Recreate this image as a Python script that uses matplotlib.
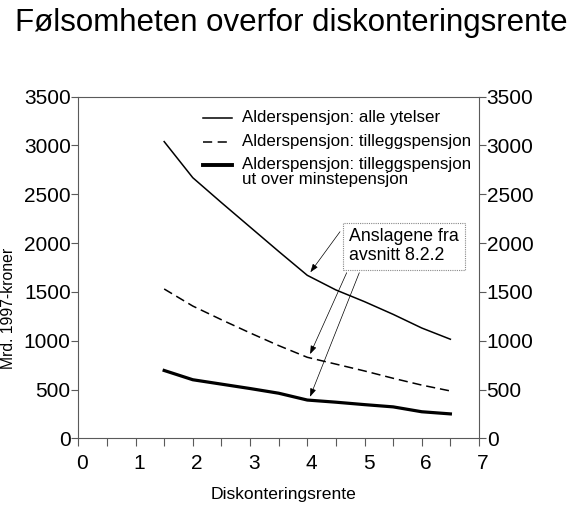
import matplotlib
matplotlib.use("Agg")
import matplotlib.pyplot as plt
import matplotlib.transforms as mtransforms
from matplotlib.lines import Line2D

plt.rcParams['font.family'] = ['Liberation Sans', 'DejaVu Sans']

# Data
rente = [1.5, 2.0, 2.5, 3.0, 3.5, 4.0, 4.5, 5.0, 5.5, 6.0, 6.5]
alle_ytelser = [3040, 2670, 2415, 2165, 1915, 1670, 1520, 1400, 1270, 1130, 1015]
tilleggspensjon = [1530, 1355, 1215, 1080, 950, 830, 760, 690, 615, 545, 485]
over_minste = [695, 600, 555, 510, 462, 392, 370, 345, 322, 272, 250]

labels = ["Alderspensjon: alle ytelser",
          "Alderspensjon: tilleggspensjon",
          "Alderspensjon: tilleggspensjon\nut over minstepensjon"]
title = "Følsomheten overfor diskonteringsrente"
xlabel = "Diskonteringsrente"
ylabel = "Mrd. 1997-kroner"
annot = "Anslagene fra\navsnitt 8.2.2"
xticks_major = [0, 1, 2, 3, 4, 5, 6, 7]
yticks = [0, 500, 1000, 1500, 2000, 2500, 3000, 3500]

W, H = 576, 505
fig = plt.figure(figsize=(W / 100, H / 100), dpi=100)
x0, x1 = 78.3, 479.0
yb, yt = 438.3, 96.7
ax = fig.add_axes([x0 / W, (H - yb) / H, (x1 - x0) / W, (yb - yt) / H])

spine_col = '#5a5a5a'
for s in ax.spines.values():
    s.set_color(spine_col)
    s.set_linewidth(0.8)

ax.set_xlim(0, 7)
ax.set_ylim(0, 3500)

l1, = ax.plot(rente, alle_ytelser, color='black', lw=1.1)
l2, = ax.plot(rente, tilleggspensjon, color='black', lw=1.1)
l2.set_dashes((6.0, 3.2))
l3, = ax.plot(rente, over_minste, color='black', lw=2.3)

# x ticks: every 0.5, labels only at integers
halfs = [i * 0.5 for i in range(15)]
ax.set_xticks(halfs)
ax.set_xticklabels([str(int(v)) if v in xticks_major else "" for v in halfs])
ax.tick_params(axis='x', direction='out', length=5.5, width=0.8, color=spine_col,
               labelsize=15, pad=6, top=False)
offset = mtransforms.ScaledTranslation(4 / 100, 0, fig.dpi_scale_trans)
for lab in ax.get_xticklabels():
    lab.set_transform(lab.get_transform() + offset)

ax.set_yticks(yticks)
ax.set_yticklabels([str(v) for v in yticks])
ax.tick_params(axis='y', direction='out', length=5, width=0.8, color=spine_col,
               labelsize=15, pad=0.5, left=True, right=True,
               labelleft=True, labelright=True)

# titles / labels
fig.text(15 / W, (H - 31) / H, title, fontsize=22.5, ha='left', va='baseline')
fig.text(283.3 / W, (H - 495) / H, xlabel, fontsize=12.6, ha='center', va='center')
fig.text(9 / W, (H - 308) / H, ylabel, fontsize=11.3, ha='center', va='center',
         rotation=90)

# legend drawn manually
lx0 = (203.3 - x0) / (x1 - x0)
lx1 = (231.7 - x0) / (x1 - x0)
tx = (241.7 - x0) / (x1 - x0)
rows = [(yb - 118.3) / (yb - yt), (yb - 141.7) / (yb - yt), (yb - 165.0) / (yb - yt)]
styles = [dict(lw=1.1), dict(lw=1.1, dashes=(6.0, 3.6)), dict(lw=2.8)]
for ry, st, lab in zip(rows, styles, labels):
    ln = Line2D([lx0, lx1], [ry, ry], color='black', transform=ax.transAxes, **st)
    ax.add_line(ln)
    ax.text(tx, ry + 0.024, lab, transform=ax.transAxes, fontsize=12.2,
            ha='left', va='top', linespacing=1.03)

# annotation box
def px2data(px, py):
    return ((px - x0) / (x1 - x0) * 7, (yb - py) / (yb - yt) * 3500)

bx, by = px2data(349.3, 246.2)
ax.text(bx, by, annot, fontsize=12.8, ha='left', va='center', linespacing=1.12,
        bbox=dict(boxstyle='square,pad=0.33', facecolor='white',
                  edgecolor='#888888', linestyle=(0, (1, 1)), linewidth=0.8))

starts = [px2data(340, 231.7), px2data(346.7, 272.7), px2data(359.3, 272.7)]
targets = [alle_ytelser, tilleggspensjon, over_minste]
i4 = rente.index(4.0)
for st, ser in zip(starts, targets):
    ax.annotate("", xy=(rente[i4] + 0.04, ser[i4] + 20), xytext=st,
                arrowprops=dict(arrowstyle='-|>,head_length=0.5,head_width=0.18',
                                color='black', lw=0.5, shrinkA=0, shrinkB=1))

fig.savefig("out.png", dpi=100)
